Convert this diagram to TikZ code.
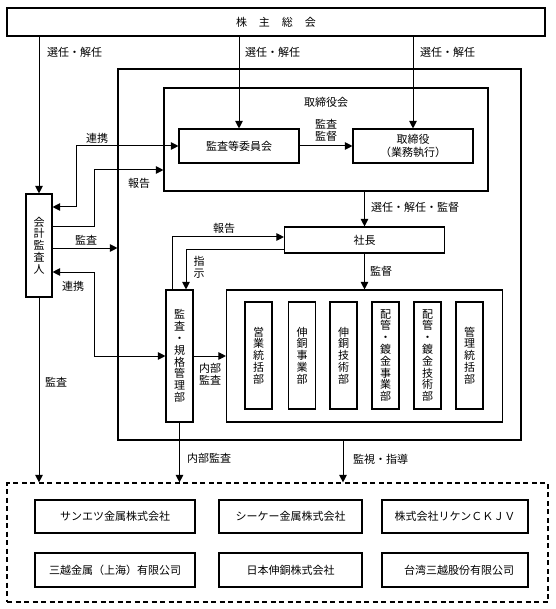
\documentclass[tikz,border=0pt]{standalone}
\usepackage{fontspec}
\newfontfamily\jp{Noto Sans CJK JP}
\usetikzlibrary{arrows.meta}
\begin{document}
\begin{tikzpicture}[x=1pt,y=-1pt,
  every node/.style={font=\jp\fontsize{11}{11.8}\selectfont, inner sep=0pt},
  box/.style={draw, line width=1.1pt, align=center},
  vbox/.style={box, minimum width=27pt},
  lbl/.style={align=center},
  ln/.style={line width=1pt},
  tip/.tip={Triangle[length=7.5pt,width=7.5pt]},
  arr/.style={ln, -tip},
  darr/.style={ln, tip-tip},
]
\useasboundingbox (0,0) rectangle (555,609);

% boxes
\node[box, minimum width=538pt, minimum height=28pt] (gm) at (276,22) {株\hspace{12pt}主\hspace{12pt}総\hspace{12pt}会};
\node[box, minimum width=403pt, minimum height=371pt] (outer) at (319.5,254.5) {};
\node[box, minimum width=324pt, minimum height=103pt] (board) at (326,139.5) {};
\node[lbl] (boardlbl) at (326,102) {取締役会};
\node[box, minimum width=120pt, minimum height=34pt] (committee) at (239,146) {監査等委員会};
\node[box, minimum width=120pt, minimum height=34pt] (tori) at (413,146) {取締役\\[1.2pt]（業務執行）};
\node[box, minimum width=160pt, minimum height=26pt] (shacho) at (364.5,240) {社長};
\node[box, minimum width=276pt, minimum height=132pt] (dept) at (364.5,356) {};
\node[vbox, minimum height=107pt] (d1) at (258.5,355.5) {営\\業\\統\\括\\部};
\node[vbox, minimum height=107pt] (d2) at (302,355.5) {伸\\銅\\事\\業\\部};
\node[vbox, minimum height=107pt] (d3) at (343.5,355.5) {伸\\銅\\技\\術\\部};
\node[vbox, minimum height=107pt] (d4) at (385.5,355.5) {配\\管\\・\\鍍\\金\\事\\業\\部};
\node[vbox, minimum height=107pt] (d5) at (427.5,355.5) {配\\管\\・\\鍍\\金\\技\\術\\部};
\node[vbox, minimum height=107pt] (d6) at (469.5,355.5) {管\\理\\統\\括\\部};
\node[vbox, minimum width=26pt, minimum height=103pt] (kaikei) at (39,245.5) {会\\計\\監\\査\\人};
\node[vbox, minimum height=132pt] (kikaku) at (179.5,356) {監\\査\\・\\規\\格\\管\\理\\部};

% group companies
\node[draw, line width=1.2pt, dash pattern=on 5pt off 3.5pt, minimum width=541pt, minimum height=119pt] (group) at (277.5,542.5) {};
\node[box, minimum width=160pt, minimum height=33pt] (c1) at (115,516.5) {サンエツ金属株式会社};
\node[box, minimum width=143pt, minimum height=33pt] (c2) at (290.5,516.5) {シーケー金属株式会社};
\node[box, minimum width=146pt, minimum height=33pt] (c3) at (455,516.5) {株式会社リケンＣＫＪＶ};
\node[box, minimum width=160pt, minimum height=34pt] (c4) at (115,570) {三越金属（上海）有限公司};
\node[box, minimum width=143pt, minimum height=34pt] (c5) at (290.5,570) {日本伸銅株式会社};
\node[box, minimum width=146pt, minimum height=34pt] (c6) at (455,570) {\hspace{8pt}台湾三越股份有限公司};

% coordinates for bends
\coordinate (r1) at (76,207);
\coordinate (r1t) at (76,146);
\coordinate (h1) at (94,227);
\coordinate (h1t) at (94,170);
\coordinate (a1) at (0,248);
\coordinate (r2) at (94,272);
\coordinate (r2b) at (94,356);
\coordinate (h2) at (172,237);
\coordinate (s1) at (186,249);
\coordinate (m1) at (343,0);

% connectors
\draw[arr] (gm.south -| kaikei) -- (kaikei.north);
\draw[arr] (gm.south -| committee) -- (committee.north);
\draw[arr] (gm.south -| tori) -- (tori.north);
\draw[arr] (committee.east) -- (tori.west);
\draw[arr] (board.south -| shacho) -- (shacho.north);
\draw[arr] (shacho.south) -- (dept.north);
\draw[darr] (kaikei.east |- r1) -- (r1) -- (r1t) -- (committee.west);
\draw[arr] (kaikei.east |- h1) -- (h1) -- (h1t) -- (board.west |- h1t);
\draw[arr] (kaikei.east |- a1) -- (outer.west |- a1);
\draw[darr] (kaikei.east |- r2) -- (r2) -- (r2b) -- (kikaku.west |- r2b);
\draw[arr] (kikaku.north -| h2) -- (h2) -- (shacho.west |- h2);
\draw[arr] (shacho.west |- s1) -- (s1) -- (kikaku.north -| s1);
\draw[arr] (kikaku.east |- r2b) -- (dept.west |- r2b);
\draw[arr] (kaikei.south) -- (kaikei.south |- group.north);
\draw[arr] (kikaku.south) -- (kikaku.south |- group.north);
\draw[arr] (outer.south -| m1) -- (group.north -| m1);

% labels
\node[anchor=west] (l1) at (47,52) {選任・解任};
\node[anchor=west] (l2) at (245,52) {選任・解任};
\node[anchor=west] (l3) at (420,52) {選任・解任};
\node[lbl] (l4) at (326,130) {監査\\監督};
\node[lbl] (l5) at (97,138) {連携};
\node[lbl] (l6) at (139,183) {報告};
\node[lbl] (l7) at (86,240) {監査};
\node[lbl] (l8) at (73,286) {連携};
\node[lbl] (l9) at (224,228) {報告};
\node[lbl] (l10) at (199,267) {指\\示};
\node[lbl] (l11) at (210,374) {内部\\監査};
\node[anchor=west] (l12) at (371,207) {選任・解任・監督};
\node[anchor=west] (l13) at (370,271) {監督};
\node[lbl] (l14) at (56,382) {監査};
\node[anchor=west] (l15) at (187,458) {内部監査};
\node[anchor=west] (l16) at (353,459) {監視・指導};
\end{tikzpicture}
\end{document}
